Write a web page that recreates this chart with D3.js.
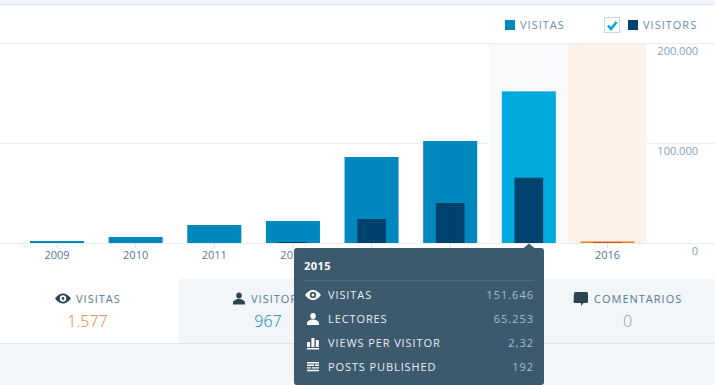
<!DOCTYPE html>
<html>
<head>
<meta charset="utf-8">
<script src="https://cdn.jsdelivr.net/npm/d3@7"></script>
<style>
body { margin: 0; background: #fff; overflow: hidden; }
svg { display: block; }
text { font-family: "Open Sans", sans-serif; font-size: 11px; }
.axis path { display: none; }
.axis text { font-family: "Open Sans", sans-serif; font-size: 11px; }
</style>
</head>
<body>
<div id="chart"></div>
<script>
var years = ["2009", "2010", "2011", "2012", "2013", "2014", "2015", "2016"];
var visitas = [2000, 6000, 18000, 22000, 86000, 102000, 151646, 1577];
var visitors = [0, 0, 0, 1000, 24000, 40000, 65253, 967];
var yTicks = [0, 100000, 200000];

var legendLabels = ["VISITAS", "VISITORS"];
var cardTitles = ["VISITAS", "VISITORS", "ME GUSTA", "COMENTARIOS"];
var cardValues = ["1.577", "967", "0", "0"];
var cardColors = ["#ee7a2c", "#0081b8", "#7b9bb2", "#7b9bb2"];
var tipTitle = "2015";
var tipLabels = ["VISITAS", "LECTORES", "VIEWS PER VISITOR", "POSTS PUBLISHED"];
var tipValues = ["151.646", "65.253", "2,32", "192"];

var width = 715, height = 385;
var svg = d3.select("#chart").append("svg")
    .attr("width", width)
    .attr("height", height);

var x = d3.scaleBand().domain(years).range([17.7, 646.8]);
var y = d3.scaleLinear().domain([0, 200000]).range([243, 43]);
var barInset = 12.3, innerInset = 25;

// page background and top strip
svg.append("rect").attr("width", width).attr("height", 4).attr("fill", "#f3f6f8");
svg.append("rect").attr("y", 4).attr("width", width).attr("height", 1).attr("fill", "#dfe6eb");
svg.append("rect").attr("y", 344).attr("width", width).attr("height", 41).attr("fill", "#f3f6f8");
svg.append("rect").attr("y", 343).attr("width", width).attr("height", 1).attr("fill", "#dfe5ea");

// grid
svg.selectAll("line.grid")
    .data(yTicks)
    .enter()
    .append("line")
    .attr("class", "grid")
    .attr("x1", 0).attr("x2", width)
    .attr("y1", d => y(d) + 0.5).attr("y2", d => y(d) + 0.5)
    .attr("stroke", "#e9eff3");

// highlighted columns sit over the grid
svg.append("rect")
    .attr("x", x("2015")).attr("y", y(200000) + 1)
    .attr("width", x.bandwidth()).attr("height", y(0) - y(200000) - 1)
    .attr("fill", "#f8f9fb");
svg.append("rect")
    .attr("x", x("2016")).attr("y", y(200000) + 1)
    .attr("width", x.bandwidth()).attr("height", y(0) - y(200000) - 1)
    .attr("fill", "#fdf2e8");

// bars
svg.selectAll("rect.bar")
    .data(years)
    .enter()
    .append("rect")
    .attr("class", "bar")
    .attr("x", d => x(d) + barInset)
    .attr("y", (d, i) => y(visitas[i]))
    .attr("width", x.bandwidth() - barInset * 2)
    .attr("height", (d, i) => y(0) - y(visitas[i]))
    .attr("fill", d => d === "2015" ? "#00aadc" : d === "2016" ? "#f0821e" : "#0087be");

svg.selectAll("rect.inner")
    .data(years)
    .enter()
    .append("rect")
    .attr("class", "inner")
    .attr("x", d => x(d) + innerInset)
    .attr("y", (d, i) => y(visitors[i]))
    .attr("width", x.bandwidth() - innerInset * 2)
    .attr("height", (d, i) => y(0) - y(visitors[i]))
    .attr("fill", d => d === "2016" ? "#d54e21" : "#00426e");

// axes
var xAxis = d3.axisBottom(x).tickSize(5).tickPadding(3);
var gx = svg.append("g")
    .attr("class", "axis")
    .attr("transform", "translate(0,243)")
    .call(xAxis);
gx.selectAll(".tick line").attr("stroke", "#d8e2e9");
gx.selectAll(".tick text").attr("fill", "#537994");

var yAxis = d3.axisRight(y)
    .tickValues(yTicks)
    .tickSize(0)
    .tickPadding(0)
    .tickFormat(d => d3.format(",")(d).replace(/,/g, "."));
var gy = svg.append("g")
    .attr("class", "axis")
    .attr("transform", "translate(698,8)")
    .call(yAxis);
gy.selectAll(".tick text").attr("text-anchor", "end").attr("fill", "#7f9fc4");

// legend
svg.append("rect").attr("x", 505).attr("y", 20).attr("width", 10).attr("height", 10).attr("fill", "#0087be");
svg.append("text").attr("x", 520).attr("y", 29).attr("letter-spacing", 1).attr("fill", "#668eaa").text(legendLabels[0]);
svg.append("rect").attr("x", 604.5).attr("y", 17.5).attr("width", 15).attr("height", 15)
    .attr("fill", "#fff").attr("stroke", "#c8d7e1");
svg.append("path").attr("d", "M608 25.5l3 3.5 5.5-7").attr("fill", "none").attr("stroke", "#00aadc").attr("stroke-width", 2.6);
svg.append("rect").attr("x", 628).attr("y", 20).attr("width", 10).attr("height", 10).attr("fill", "#00426e");
svg.append("text").attr("x", 643).attr("y", 29).attr("letter-spacing", 1).attr("fill", "#668eaa").text(legendLabels[1]);

// icons, drawn around 0,0
var eye = "M-8 0C-5-4-2-5 0-5S5-4 8 0C5 4 2 5 0 5S-5 4-8 0ZM-3.2 0A3.2 3.2 0 1 0 3.2 0A3.2 3.2 0 1 0-3.2 0Z M-1.4 0A1.4 1.4 0 1 1 1.4 0A1.4 1.4 0 1 1-1.4 0Z";
var person = "M-2.8-3a2.8 3 0 1 1 5.6 0a2.8 3 0 1 1-5.6 0ZM-6 6V4C-6 2-3 1-1.5 .5H1.5C3 1 6 2 6 4V6Z";
var bars = "M-6-1h3v5h-3ZM-1.6-5h3v9h-3ZM2.8-3h3v7h-3ZM-6 5h12v1.4h-12Z";
var posts = "M-6-5h12v1.4h-12ZM-6-2.4h7v1.4h-7ZM2-2.4h4v1.4h-4ZM-6 .2h4v1.4h-4ZM-1 .2h7v1.4h-7ZM-6 2.8h12v1.4h-12Z";
var bubble = "M-7-5.5a1.5 1.5 0 0 1 1.5-1.5h11a1.5 1.5 0 0 1 1.5 1.5v8a1.5 1.5 0 0 1-1.5 1.5h-3l-2.5 3v-3h-6a1.5 1.5 0 0 1-1.5-1.5Z";

// cards
var cardW = width / 4;
var titleX = [76, 251, 430, 594], valueX = [87.5, 268, 446, 627.5];
var cards = svg.selectAll("g.card")
    .data(cardTitles)
    .enter()
    .append("g")
    .attr("class", "card");
cards.append("rect")
    .attr("x", (d, i) => i * cardW).attr("y", 279)
    .attr("width", cardW).attr("height", 64)
    .attr("fill", (d, i) => i === 0 ? "#fff" : "#f3f6f8");
cards.append("text")
    .attr("x", (d, i) => titleX[i])
    .attr("y", 303)
    .attr("letter-spacing", 1)
    .attr("fill", "#537994")
    .text(d => d);
cards.append("text")
    .attr("x", (d, i) => valueX[i])
    .attr("y", 327)
    .attr("text-anchor", "middle")
    .attr("font-weight", 300)
    .style("font-size", "16px")
    .attr("fill", (d, i) => cardColors[i])
    .text((d, i) => cardValues[i]);
[[63, 298.5, eye], [239, 298.5, person], [581, 299, bubble]].forEach(d => {
    svg.append("path").attr("transform", `translate(${d[0]},${d[1]})`).attr("d", d[2])
        .attr("fill", "#2e4453").attr("fill-rule", "evenodd");
});

// tooltip
var tip = svg.append("g");
tip.append("path").attr("d", "M523 248.5l6-5 6 5Z").attr("fill", "#3d596d");
tip.append("rect").attr("x", 294).attr("y", 248).attr("width", 250).attr("height", 137).attr("rx", 3).attr("fill", "#3d596d");
tip.append("text").attr("x", 304).attr("y", 270).attr("font-weight", 700).attr("letter-spacing", 0.5)
    .attr("fill", "#fff").text(tipTitle);
tip.append("line").attr("x1", 304).attr("x2", 534).attr("y1", 280.5).attr("y2", 280.5).attr("stroke", "#4c6a80");

var rowY = d3.scalePoint().domain(tipLabels).range([299, 371]);
tip.selectAll("text.tip-label")
    .data(tipLabels)
    .enter()
    .append("text")
    .attr("class", "tip-label")
    .attr("x", 328)
    .attr("y", d => rowY(d))
    .attr("letter-spacing", 0.9)
    .attr("fill", "#e9eff3")
    .text(d => d);
tip.selectAll("text.tip-value")
    .data(tipValues)
    .enter()
    .append("text")
    .attr("class", "tip-value")
    .attr("x", 534)
    .attr("y", (d, i) => rowY(tipLabels[i]))
    .attr("text-anchor", "end")
    .attr("letter-spacing", 1)
    .attr("fill", "#a8bece")
    .text(d => d);
[eye, person, bars, posts].forEach((p, i) => {
    tip.append("path")
        .attr("transform", `translate(313,${rowY(tipLabels[i]) - 4})`)
        .attr("d", p).attr("fill", "#fff").attr("fill-rule", "evenodd");
});
</script>
</body>
</html>
